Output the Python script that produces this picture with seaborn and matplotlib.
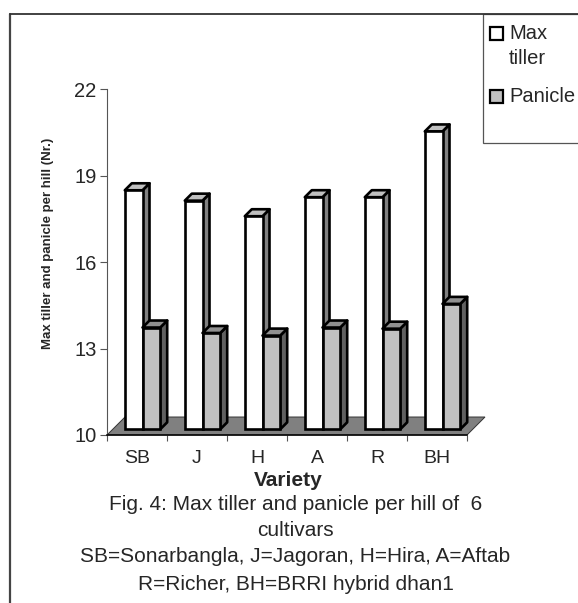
import matplotlib
matplotlib.use("Agg")
import matplotlib.pyplot as plt
from matplotlib.lines import Line2D
from matplotlib.patches import Polygon, Rectangle
from matplotlib.ticker import FixedLocator
import pandas as pd
import seaborn as sns

varieties = ["SB", "J", "H", "A", "R", "BH"]
max_tiller = [18.29, 17.93, 17.39, 18.05, 18.05, 20.33]
panicle = [13.53, 13.34, 13.25, 13.53, 13.49, 14.35]
series_names = ["Max\ntiller", "Panicle"]
series_colors = ["#ffffff", "#c0c0c0"]
y_ticks = [10, 13, 16, 19, 22]
caption = [
    "Fig. 4: Max tiller and panicle per hill of  6",
    "cultivars",
    "SB=Sonarbangla, J=Jagoran, H=Hira, A=Aftab",
    "R=Richer, BH=BRRI hybrid dhan1",
]

W, H = 578, 603
PX_PER_CAT = 60.0
PX_PER_UNIT = 28.85
EDGE = 1.9


def fx(px):
    return px / W


def fy(py):
    return 1 - py / H


sns.set_style("white")
plt.rcParams["font.family"] = ["Liberation Sans", "DejaVu Sans"]

df = pd.DataFrame(
    {
        "variety": varieties * 2,
        "value": max_tiller + panicle,
        "series": [series_names[0]] * 6 + [series_names[1]] * 6,
    }
)

fig = plt.figure(figsize=(W / 100, H / 100), dpi=100)
ax = fig.add_axes([fx(107), fy(435), 360 / W, 346 / H])
ax.patch.set_alpha(0)

sns.barplot(
    data=df,
    x="variety",
    y="value",
    hue="series",
    palette=series_colors,
    saturation=1,
    width=0.59,
    gap=0,
    edgecolor="black",
    linewidth=EDGE,
    legend=False,
    ax=ax,
)
ax.set_xlim(-0.5, 5.5)
ax.set_ylim(10, 22)

# floor of the 3d box
floor_dx = 18 / PX_PER_CAT
floor_dy = 18 / PX_PER_UNIT
ax.add_patch(
    Polygon(
        [(-0.5, 10), (5.5, 10), (5.5 + floor_dx, 10 + floor_dy), (-0.5 + floor_dx, 10 + floor_dy)],
        closed=True,
        facecolor="#808080",
        edgecolor="#333333",
        linewidth=0.7,
        clip_on=False,
        zorder=1,
    )
)

# bars stand in the middle of the floor, depth faces come from the bar size
shift_x = 5.5 / PX_PER_CAT
shift_y = 5.7 / PX_PER_UNIT
depth_x = 7 / PX_PER_CAT
depth_y = 7 / PX_PER_UNIT
face_colors = [("#808080", "#c0c0c0"), ("#606060", "#909090")]

for i, container in enumerate(ax.containers):
    side_color, top_color = face_colors[i]
    z = 2 + i
    for bar in container:
        value = bar.get_height()
        bar.set_x(bar.get_x() + shift_x)
        bar.set_y(10 + shift_y)
        bar.set_height(value - 10)
        bar.set_zorder(z + 0.2)
        bar.set_clip_on(False)
        x0 = bar.get_x()
        x1 = x0 + bar.get_width()
        y0 = 10 + shift_y
        y1 = y0 + bar.get_height()
        side = [(x1, y0), (x1 + depth_x, y0 + depth_y), (x1 + depth_x, y1 + depth_y), (x1, y1)]
        top = [(x0, y1), (x1, y1), (x1 + depth_x, y1 + depth_y), (x0 + depth_x, y1 + depth_y)]
        for pts, color in [(side, side_color), (top, top_color)]:
            ax.add_patch(
                Polygon(
                    pts,
                    closed=True,
                    facecolor=color,
                    edgecolor="black",
                    linewidth=EDGE,
                    joinstyle="round",
                    clip_on=False,
                    zorder=z,
                )
            )

sns.despine(ax=ax)
ax.spines["left"].set_color("#555555")
ax.spines["left"].set_linewidth(0.8)
ax.spines["bottom"].set_color("black")
ax.spines["bottom"].set_linewidth(1.1)
ax.spines["bottom"].set_zorder(6)

ax.set_yticks(y_ticks)
ax.tick_params(axis="y", left=True, length=5, width=0.8, color="#555555", labelsize=14.5, pad=2.5)
ax.xaxis.set_minor_locator(FixedLocator([i - 0.5 for i in range(7)]))
ax.tick_params(axis="x", which="minor", bottom=True, length=4.5, width=0.8, color="#555555")
ax.tick_params(axis="x", which="major", bottom=False, labelsize=14, pad=7)
ax.set_xlabel("")
ax.set_ylabel("")

fig.text(fx(48), fy(243.5), "Max tiller and panicle per hill (Nr.)", rotation=90, fontsize=9.5,
         fontweight="bold", ha="center", va="center")
fig.text(fx(288.5), fy(485.5), "Variety", fontsize=15, fontweight="bold", ha="center", va="baseline")
for line, py in zip(caption, [504, 531, 557, 584]):
    fig.text(fx(295.5), fy(py), line, fontsize=15, ha="center", va="center")

# outer chart border and legend box, cropped at the image edge
fig.add_artist(Line2D([fx(10), fx(10)], [fy(14), 0], color="#444444", linewidth=1.6))
fig.add_artist(Line2D([fx(10), 1], [fy(14), fy(14)], color="#333333", linewidth=1.3))
fig.add_artist(
    Rectangle((fx(483), fy(143)), 1 - fx(483) + 0.02, fy(14) - fy(143), transform=fig.transFigure,
              facecolor="white", edgecolor="#555555", linewidth=0.9)
)

# legend keys sit on the first text line, so the legend is laid out by hand
for color, key_top in zip(series_colors, [27, 90]):
    fig.add_artist(
        Rectangle((fx(490), fy(key_top + 13)), 13 / W, 13 / H, transform=fig.transFigure,
                  facecolor=color, edgecolor="black", linewidth=1.6)
    )
fig.text(fx(509), fy(46), series_names[0], fontsize=14.5, ha="left", va="center", linespacing=1.4)
fig.text(fx(509), fy(97), series_names[1], fontsize=14.5, ha="left", va="center")

fig.savefig("out.png", dpi=100)
